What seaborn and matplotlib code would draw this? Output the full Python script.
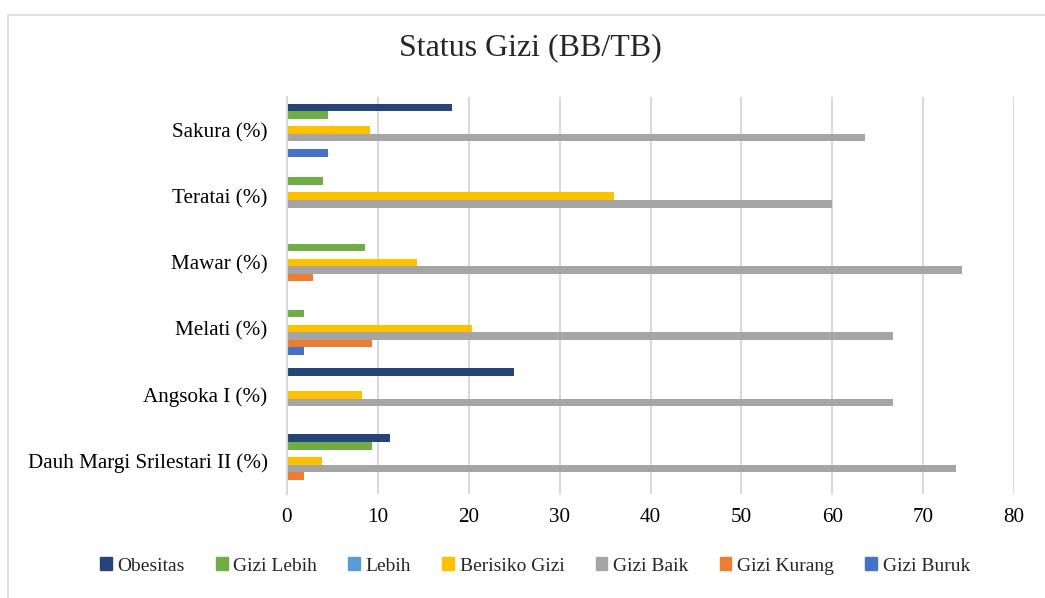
import seaborn as sns
import matplotlib.pyplot as plt
import matplotlib.patches as mpatches
import pandas as pd

# data (percent)
categories = ['Sakura (%)', 'Teratai (%)', 'Mawar (%)', 'Melati (%)',
              'Angsoka I (%)', 'Dauh Margi Srilestari II (%)']
series = ['Obesitas', 'Gizi Lebih', 'Lebih', 'Berisiko Gizi',
          'Gizi Baik', 'Gizi Kurang', 'Gizi Buruk']

obesitas = [18.2, 0, 0, 0, 25.0, 11.3]
gizi_lebih = [4.5, 4.0, 8.6, 1.9, 0, 9.4]
lebih = [0, 0, 0, 0, 0, 0]
berisiko_gizi = [9.1, 36.0, 14.3, 20.4, 8.3, 3.8]
gizi_baik = [63.6, 60.0, 74.3, 66.7, 66.7, 73.6]
gizi_kurang = [0, 0, 2.9, 9.3, 0, 1.9]
gizi_buruk = [4.5, 0, 0, 1.9, 0, 0]

colors = ['#264478', '#70AD47', '#5B9BD5', '#FFC000',
          '#A5A5A5', '#ED7D31', '#4472C4']

values = [obesitas, gizi_lebih, lebih, berisiko_gizi,
          gizi_baik, gizi_kurang, gizi_buruk]
rows = []
for name, vals in zip(series, values):
    for cat, v in zip(categories, vals):
        rows.append({'Kategori': cat, 'Status': name, 'Nilai': v})
df = pd.DataFrame(rows)

sns.set_style('white')
plt.rcParams['font.family'] = ['Liberation Serif', 'DejaVu Serif']

fig = plt.figure(figsize=(10.45, 5.98), dpi=100)
ax = fig.add_axes([287 / 1045, 1 - 494 / 598, (1014 - 287) / 1045, (494 - 97) / 598])

sns.barplot(data=df, x='Nilai', y='Kategori', hue='Status', order=categories,
            hue_order=series, palette=colors, orient='h', width=0.8,
            linewidth=0, saturation=1, legend=False, ax=ax)

ax.set_xlim(0, 80)
ax.set_xticks(range(0, 81, 10))
ax.set_xlabel('')
ax.set_ylabel('')
ax.grid(axis='x', color='#d9d9d9', linewidth=1.5)
ax.set_axisbelow(True)
for s in ['top', 'right', 'bottom']:
    ax.spines[s].set_visible(False)
ax.spines['left'].set_color('#d9d9d9')
ax.spines['left'].set_linewidth(1.5)
ax.tick_params(axis='both', length=0, labelsize=15.2, colors='black')
ax.tick_params(axis='y', pad=14)
ax.tick_params(axis='x', pad=10)

fig.text(0.508, 1 - 48 / 598, 'Status Gizi (BB/TB)', ha='center', va='center', fontsize=23)

handles = [mpatches.Patch(color=c, label=n) for c, n in zip(colors, series)]
fig.legend(handles=handles, loc='center', bbox_to_anchor=(535 / 1045, 1 - 566 / 598),
           ncol=7, frameon=False, fontsize=14, handlelength=0.6, handleheight=0.6,
           handletextpad=0.3, columnspacing=1.6)

# light outer chart border
fig.patches.append(mpatches.Rectangle((8 / 1045, -0.1), 1.2, 1.1 - 15 / 598, transform=fig.transFigure,
                                      fill=False, edgecolor='#d9d9d9', linewidth=1.2))

plt.savefig('out.png', dpi=100)
